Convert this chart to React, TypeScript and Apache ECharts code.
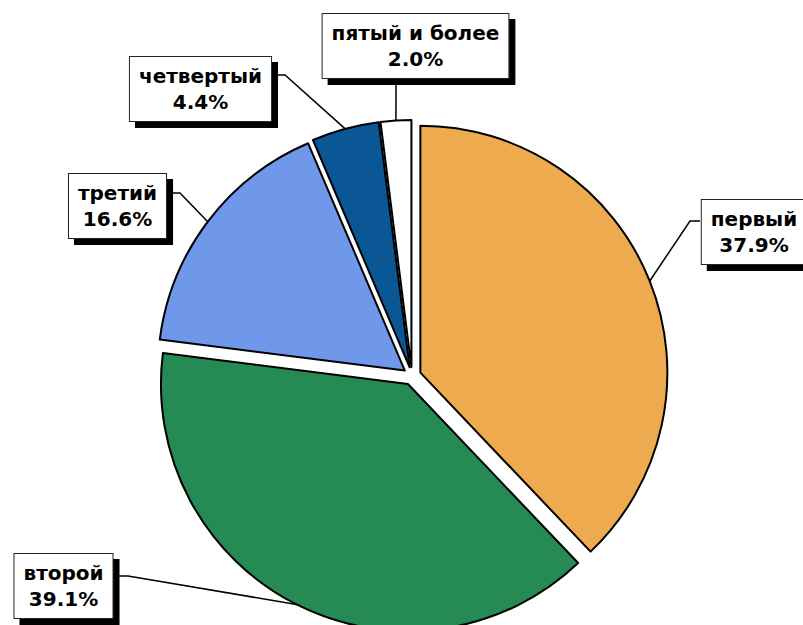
import React, { useEffect, useRef } from "react";
import * as echarts from "echarts";

const categories = ["первый", "второй", "третий", "четвертый", "пятый и более"];
const values = [37.9, 39.1, 16.6, 4.4, 2.0];
const colors = ["#EDAA4F", "#268A54", "#6F97EA", "#0B5795", "#FFFFFF"];

// layout constants (pixels)
const CENTER: [number, number] = [412, 376];
const RADIUS = 247;
const OFFSET = 9;
const labelCenters = [
  [754, 232],
  [63.5, 586],
  [117.5, 206],
  [200.5, 89],
  [415.5, 46],
];
const lineBends = [
  [[690, 221], [700, 221]],
  [[128, 576], [116, 576]],
  [[180, 193], [166, 193]],
  [[285, 75], [274, 75]],
  [[396, 100], [396, 79]],
];

export default function App() {
  const ref = useRef<HTMLDivElement>(null);
  useEffect(() => {
    if (!ref.current) return;
    const chart = echarts.init(ref.current, undefined, { renderer: "svg" });
    const total = values.reduce((a, b) => a + b, 0);
    const mids: number[] = [];
    let acc = 90;
    values.forEach((v) => {
      const sweep = (v / total) * 360;
      mids.push(acc - sweep / 2);
      acc -= sweep;
    });
    const lines = values.map((_, i) => {
      const th = (mids[i] * Math.PI) / 180;
      const start = [
        CENTER[0] + (RADIUS + OFFSET) * Math.cos(th),
        CENTER[1] - (RADIUS + OFFSET) * Math.sin(th),
      ];
      return {
        type: "polyline",
        z: 10,
        shape: { points: [start, lineBends[i][0], lineBends[i][1]] },
        style: { stroke: "#000", lineWidth: 1.5, fill: null },
        silent: true,
      };
    });
    const texts = categories.map((name, i) => ({
      type: "text",
      z: 20,
      x: labelCenters[i][0],
      y: labelCenters[i][1],
      silent: true,
      style: {
        text: `${name}\n${values[i].toFixed(1)}%`,
        font: "bold 20px 'DejaVu Sans'",
        lineHeight: 26,
        fill: "#000",
        align: "center",
        verticalAlign: "middle",
        backgroundColor: "#fff",
        borderColor: "#222",
        borderWidth: 1,
        padding: [6, 9],
        shadowColor: "#000",
        shadowBlur: 0,
        shadowOffsetX: 6,
        shadowOffsetY: 6,
      },
    }));
    chart.setOption({
      animation: false,
      backgroundColor: "#ffffff",
      graphic: { elements: [...lines, ...texts] },
      series: [
        {
          type: "pie",
          center: CENTER,
          radius: RADIUS,
          startAngle: 90,
          clockwise: true,
          selectedMode: "multiple",
          selectedOffset: OFFSET,
          emphasis: { disabled: true },
          itemStyle: { borderColor: "#000", borderWidth: 2 },
          label: { show: false },
          labelLine: { show: false },
          data: categories.map((name, i) => ({
            name,
            value: values[i],
            selected: true,
            itemStyle: { color: colors[i] },
          })),
        },
      ],
    });
    return () => chart.dispose();
  }, []);
  return (
    <div
      ref={ref}
      style={{ position: "absolute", left: 0, top: 0, width: 803, height: 625 }}
    />
  );
}
